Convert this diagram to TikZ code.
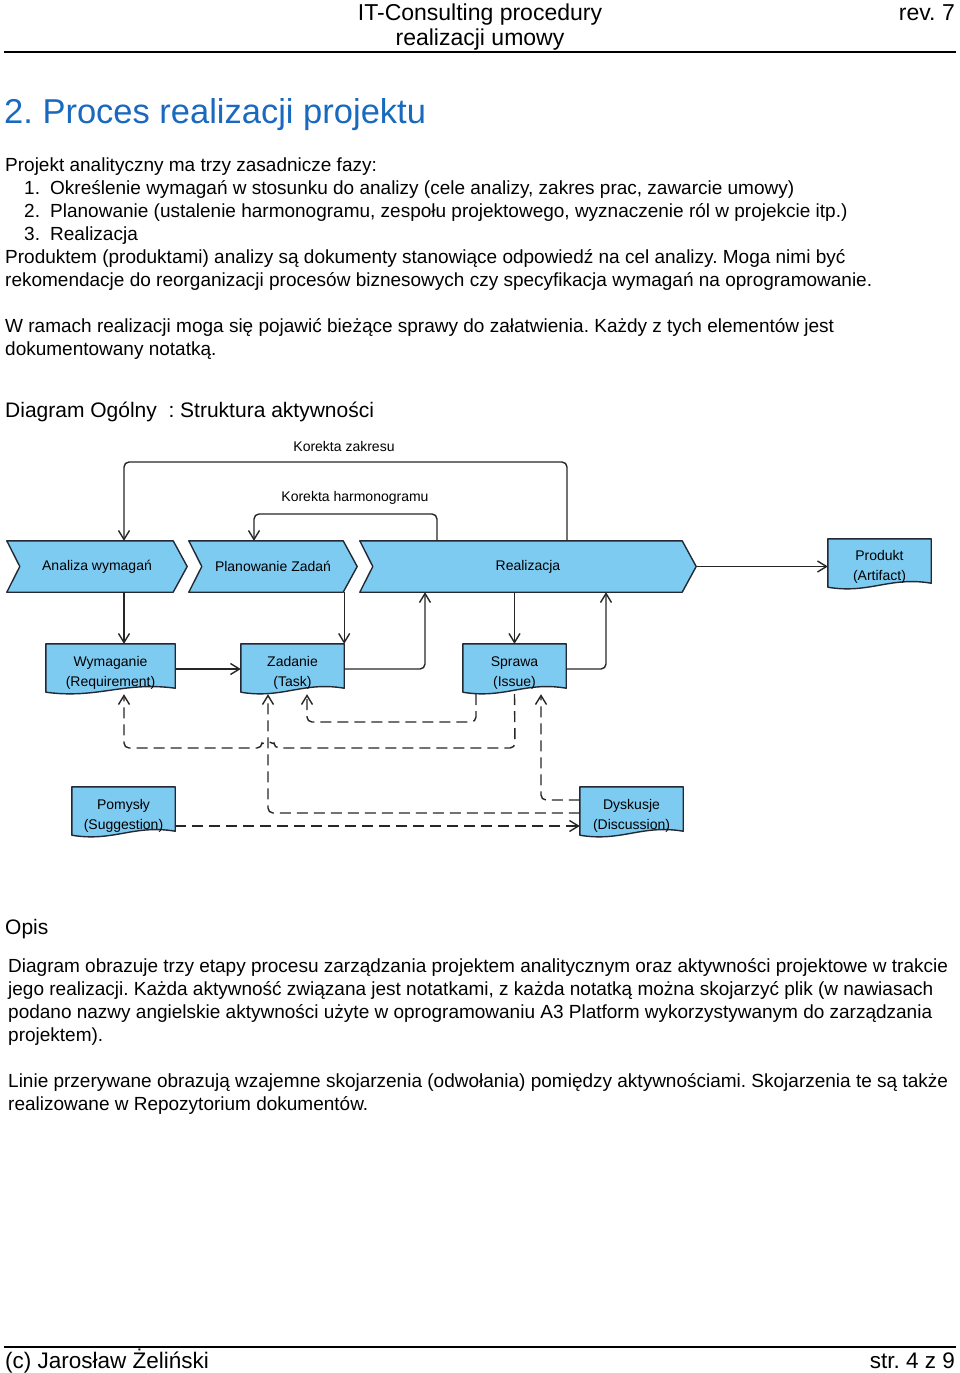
\documentclass[tikz,border=0pt]{standalone}
\usepackage{fontspec}
\setmainfont{Liberation Sans}
\usetikzlibrary{arrows.meta,calc,backgrounds}
\definecolor{headblue}{RGB}{25,105,190}
\definecolor{actfill}{RGB}{126,203,242}
\definecolor{actline}{RGB}{35,40,50}
\frenchspacing

\begin{document}
\begin{tikzpicture}[x=1pt, y=-1pt, >={Straight Barb[length=9pt,width=11pt]},
  txt/.style={anchor=base west, inner sep=0pt, font=\fontsize{19}{23}\selectfont},
  big/.style={inner sep=0pt, font=\fontsize{21}{25}\selectfont},
  hdr/.style={inner sep=0pt, font=\fontsize{23}{27}\selectfont},
  chevron/.style={minimum height=51pt, inner sep=0pt, font=\fontsize{14}{17}\selectfont},
  note/.style={minimum width=103pt, minimum height=50pt, inner sep=0pt},
  notetxt/.style={inner sep=0pt, align=center, font=\fontsize{14}{20}\selectfont},
  lbl/.style={inner sep=0pt, font=\fontsize{14}{17}\selectfont},
  actshape/.style={draw=actline, fill=actfill, line width=1.4pt, line join=round},
  flow/.style={->, line width=1.4pt, rounded corners=5pt, draw=black!85},
  link/.style={flow, dash pattern=on 11pt off 6pt}]
  \useasboundingbox (0,0) rectangle (960,1373);

  % header
  \node[hdr, anchor=base] (hd1) at (480,20) {IT-Consulting procedury};
  \node[hdr, anchor=base] (hd2) at (480,45) {realizacji umowy};
  \node[hdr, anchor=base east] (rev) at (955,20) {rev. 7};
  \draw[line width=2pt] (4,52) -- (956,52);

  \node[inner sep=0pt, anchor=base west, text=headblue, font=\fontsize{34.5}{38}\selectfont]
    (title) at (4,123) {2. Proces realizacji projektu};

  \node[txt] (p1) at (5,171.5) {Projekt analityczny ma trzy zasadnicze fazy:};
  \node[txt] (n1) at (24,194.5) {1.};
  \node[txt] (l1) at (50,194.5) {Określenie wymagań w stosunku do analizy (cele analizy, zakres prac, zawarcie umowy)};
  \node[txt] (n2) at (24,217.5) {2.};
  \node[txt] (l2) at (50,217.5) {Planowanie (ustalenie harmonogramu, zespołu projektowego, wyznaczenie ról w projekcie itp.)};
  \node[txt] (n3) at (24,240.5) {3.};
  \node[txt] (l3) at (50,240.5) {Realizacja};
  \node[txt] (p2) at (5,263.5) {Produktem (produktami) analizy są dokumenty stanowiące odpowiedź na cel analizy. Moga nimi być};
  \node[txt] (p3) at (5,286.5) {rekomendacje do reorganizacji procesów biznesowych czy specyfikacja wymagań na oprogramowanie.};
  \node[txt] (p4) at (5,332.5) {W ramach realizacji moga się pojawić bieżące sprawy do załatwienia. Każdy z tych elementów jest};
  \node[txt] (p5) at (5,355.5) {dokumentowany notatką.};

  \node[big, anchor=base west] (dtitle) at (5,417.5) {Diagram Ogólny\ \ : Struktura aktywności};

  % diagram
  \node[chevron, minimum width=180pt] (ana) at (97,566.5) {Analiza wymagań};
  \node[chevron, minimum width=168pt] (pla) at (273,566.5) {Planowanie Zadań};
  \node[chevron, minimum width=336pt] (rea) at (528,566.5) {Realizacja};
  \node[note] (prod) at (879.5,564) {};
  \node[note, minimum width=129pt] (wym) at (110.5,669) {};
  \node[note] (zad) at (292.5,669) {};
  \node[note] (spr) at (514.5,669) {};
  \node[note] (pom) at (123.5,812) {};
  \node[note] (dys) at (631.5,812) {};
  \node[notetxt] (prod-t) at ([yshift=-3pt]prod) {Produkt\\(Artifact)};
  \node[notetxt] (wym-t) at ([yshift=-4pt]wym) {Wymaganie\\(Requirement)};
  \node[notetxt] (zad-t) at ([yshift=-4pt]zad) {Zadanie\\(Task)};
  \node[notetxt] (spr-t) at ([yshift=-4pt]spr) {Sprawa\\(Issue)};
  \node[notetxt] (pom-t) at ([yshift=-4pt]pom) {Pomysły\\(Suggestion)};
  \node[notetxt] (dys-t) at ([yshift=-4pt]dys) {Dyskusje\\(Discussion)};

  \begin{scope}[on background layer]
    \foreach \n in {ana,pla,rea}
      \draw[actshape] (\n.north west) -- ([xshift=-14pt]\n.north east) -- (\n.east)
        -- ([xshift=-14pt]\n.south east) -- (\n.south west) -- ([xshift=13pt]\n.west) -- cycle;
    \foreach \n in {prod,wym,zad,spr,pom,dys}
      \draw[actshape] (\n.north west) -- (\n.north east) -- ([yshift=6pt]\n.south east)
        .. controls ([yshift=13pt]$(\n.south west)!0.6!(\n.south east)$)
        and ([yshift=-5pt]$(\n.south west)!0.4!(\n.south east)$) .. ([yshift=2pt]\n.south west) -- cycle;
  \end{scope}

  \node[lbl] (kz) at (344,446) {Korekta zakresu};
  \node[lbl] (kh) at (355,498) {Korekta harmonogramu};
  \draw[flow] (rea.north -| 567,0) -- (567,462) -- (124,462) -- (ana.north -| 124,0);
  \draw[flow] (rea.north -| 437,0) -- (437,514) -- (254,514) -- (pla.north -| 254,0);
  \draw[flow] (rea.east) -- (prod.west |- rea.east);
  \draw[flow] (ana.south -| 124,0) -- (wym.north -| 124,0);
  \draw[flow] (pla.south -| zad.north east) -- (zad.north east);
  \draw[flow] (wym.east) -- (zad.west);
  \draw[flow] (zad.east) -| (rea.south -| 425,0);
  \draw[flow] (rea.south -| spr.north) -- (spr.north);
  \draw[flow] (spr.east) -| (rea.south -| 606,0);

  \draw[link] (spr.south -| 476,0) -- (476,722) -- (307,722) -- (zad.south -| 307,0);
  \draw[link] (spr.south) -- (515,748) -- (274,748) arc[start angle=0, end angle=180, radius=6pt]
    -- (124,748) -- (wym.south -| 124,0);
  \draw[link] (dys.west |- 0,813) -- (268,813) -- (zad.south -| 268,0);
  \draw[link] (dys.west |- 0,800) -- (541,800) -- (spr.south -| 541,0);
  \draw[link] (pom.east |- 0,826) -- (dys.west |- 0,826);

  % description
  \node[big, anchor=base west] (opis) at (5,934.5) {Opis};
  \node[txt] (o1) at (8,972.5) {Diagram obrazuje trzy etapy procesu zarządzania projektem analitycznym oraz aktywności projektowe w trakcie};
  \node[txt] (o2) at (8,995.5) {jego realizacji. Każda aktywność związana jest notatkami, z każda notatką można skojarzyć plik (w nawiasach};
  \node[txt] (o3) at (8,1018.5) {podano nazwy angielskie aktywności użyte w oprogramowaniu A3 Platform wykorzystywanym do zarządzania};
  \node[txt] (o4) at (8,1041.5) {projektem).};
  \node[txt] (o5) at (8,1087.5) {Linie przerywane obrazują wzajemne skojarzenia (odwołania) pomiędzy aktywnościami. Skojarzenia te są także};
  \node[txt] (o6) at (8,1110.5) {realizowane w Repozytorium dokumentów.};

  % footer
  \draw[line width=2pt] (4,1347) -- (956,1347);
  \node[inner sep=0pt, anchor=base west, font=\fontsize{22.5}{26}\selectfont] (ft1) at (5,1368) {(c) Jarosław Żeliński};
  \node[inner sep=0pt, anchor=base east, font=\fontsize{22.5}{26}\selectfont] (ft2) at (955,1368) {str. 4 z 9};
\end{tikzpicture}
\end{document}
